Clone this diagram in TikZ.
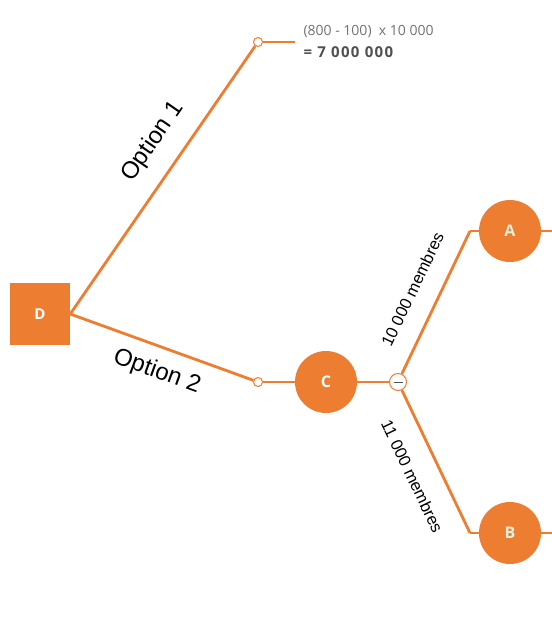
\documentclass[tikz,border=0pt]{standalone}
\usepackage{fontspec}
\setmainfont{Liberation Sans}
\newfontfamily\labelfont{Open Sans}
\newfontfamily\valuefont{Open Sans}[LetterSpace=9]
\usetikzlibrary{positioning}
\definecolor{orangetree}{HTML}{ED7D31}
\definecolor{greyvalue}{HTML}{767171}
\definecolor{darkvalue}{HTML}{505050}
\definecolor{mintletter}{HTML}{E2F0D9}
\tikzset{
  branch/.style={draw=orangetree, line width=2.8pt},
  decision/.style={fill=orangetree, minimum width=60pt, minimum height=62pt, inner sep=0pt, text=white, font=\labelfont\bfseries\fontsize{15}{17}\selectfont},
  chance/.style={circle, fill=orangetree, minimum size=62pt, inner sep=0pt, text=white, font=\labelfont\bfseries\fontsize{16}{18}\selectfont},
  endpoint/.style={circle, draw=orangetree, fill=white, line width=1pt, minimum size=9pt, inner sep=0pt},
  collapse/.style={circle, draw=orangetree, fill=white, line width=1pt, minimum size=17pt, inner sep=0pt},
  optionlabel/.style={font=\fontsize{24}{26}\selectfont, text=black},
  memberlabel/.style={font=\fontsize{16.5}{18}\selectfont}
}
\begin{document}
\begin{tikzpicture}[x=1pt, y=-1pt]
    \useasboundingbox (0,0) rectangle (552,625);

    % Noeuds de l'arbre
    \node[decision] (D) at (40,314) {D};
    \node[endpoint] (e1) at (258,42) {};
    \node[endpoint] (e2) at (258,382) {};
    \node[chance] (C) at (326,382) {C};
    \node[collapse] (m) at (398,382) {};
    \node[chance, text=mintletter] (A) at (510,231) {A};
    \node[chance, text=mintletter] (B) at (510,533) {B};
    \coordinate (k1) at (295,42);
    \coordinate (kA) at (470,231);
    \coordinate (kB) at (470,533);
    \coordinate (fA) at (552,231);
    \coordinate (fB) at (552,533);

    % Branches
    \draw[branch] (D.east) -- (e1) node[pos=0.58, above=14pt, sloped, optionlabel] {Option 1};
    \draw[branch] (e1) -- (k1);
    \draw[branch] (D.east) -- (e2) node[pos=0.52, below=9pt, sloped, optionlabel] {Option 2};
    \draw[branch] (e2) -- (C);
    \draw[branch] (C) -- (m);
    \draw[branch] (m) -- (kA) node[pos=0.51, above=16pt, sloped, memberlabel] {10 000 membres};
    \draw[branch] (kA) -- (A);
    \draw[branch] (A) -- (fA);
    \draw[branch] (m) -- (kB) node[pos=0.52, below=17pt, sloped, memberlabel] {11 000 membres};
    \draw[branch] (kB) -- (B);
    \draw[branch] (B) -- (fB);

    % Signe de la branche repliée
    \draw[darkvalue, line width=1pt] ([xshift=-4.5pt]m.center) -- ([xshift=4.5pt]m.center);

    % Valeur de l'option 1
    \node[anchor=west, text=greyvalue, font=\labelfont\fontsize{14}{16}\selectfont] (calc) at (300,32) {(800 - 100)\ \ x 10 000};
    \node[text=darkvalue, font=\valuefont\bfseries\fontsize{15}{17}\selectfont, below=1pt of calc.south west, anchor=north west] (value) {= 7 000 000};
\end{tikzpicture}
\end{document}
